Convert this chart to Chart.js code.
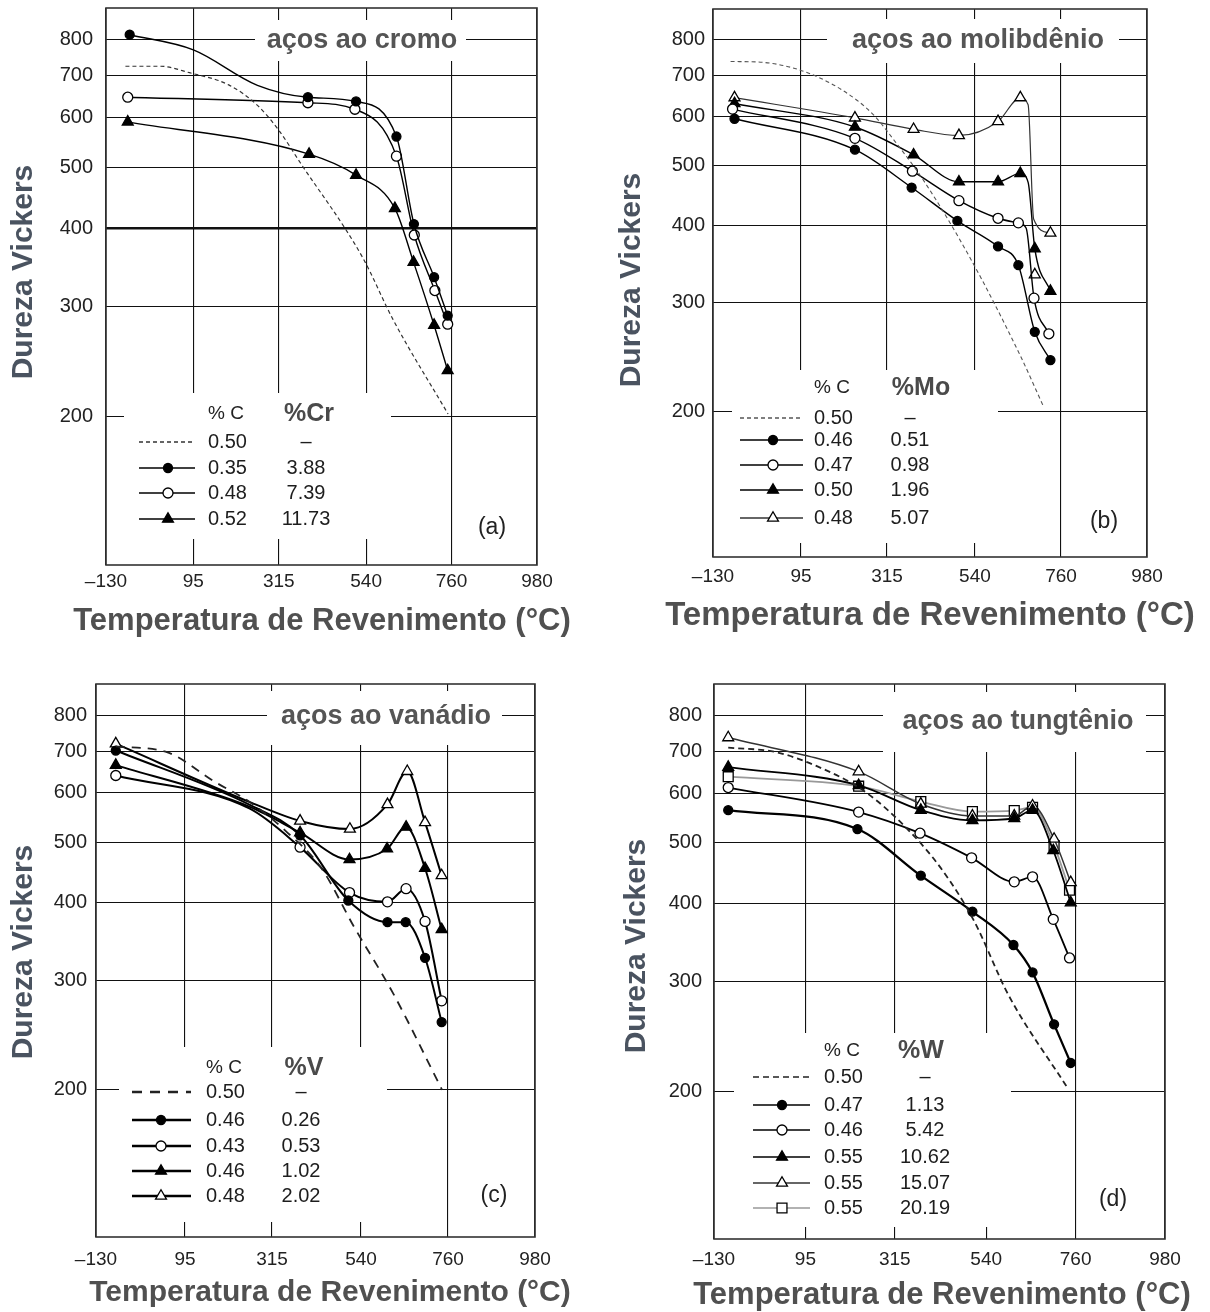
<!DOCTYPE html>
<html>
<head>
<meta charset="utf-8">
<title>Dureza Vickers x Temperatura de Revenimento</title>
<script src="https://cdn.jsdelivr.net/npm/chart.js@4/dist/chart.umd.min.js"></script>
<style>
  html, body { margin: 0; padding: 0; background: #fff; }
  #wrap { position: relative; width: 1210px; height: 1312px; overflow: hidden; }
  #wrap canvas { position: absolute; }
</style>
</head>
<body>
<div id="wrap">
  <canvas id="cA"></canvas>
  <canvas id="cB"></canvas>
  <canvas id="cC"></canvas>
  <canvas id="cD"></canvas>
</div>
<script>
const FONT = "'Liberation Sans', Arial, Helvetica, sans-serif";

// eixos (iguais nos 4 graficos)
const xTicks = [-130, 95, 315, 540, 760, 980];
const yTicks = [200, 300, 400, 500, 600, 700, 800];

// (a) aços ao cromo
const crCarbon = ['0.50', '0.35', '0.48', '0.52'];
const crAlloy = ['–', '3.88', '7.39', '11.73'];
const crTemp0 = [-80, 10, 85, 186, 260, 315, 370, 531, 609, 751];
const crHv0 = [725, 725, 708, 677, 628, 573, 509, 359, 286, 202];
const crTemp1 = [-69, 390, 514, 618, 663, 715, 750];
const crHv1 = [814, 647, 637, 560, 406, 334, 290];
const crCurveT1 = [95, 260];          // trechos da curva sem marcador
const crCurveHv1 = [770, 676];
const crTemp2 = [-74, 390, 511, 618, 664, 717, 750];
const crHv2 = [647, 634, 619, 521, 390, 318, 281];
const crTemp3 = [-74, 393, 514, 614, 662, 715, 750];
const crHv3 = [591, 525, 486, 430, 353, 280, 237];

// (b) aços ao molibdênio
const moCarbon = ['0.50', '0.46', '0.47', '0.50', '0.48'];
const moAlloy = ['–', '0.51', '0.98', '1.96', '5.07'];
const moTemp0 = [-85, -20, 89, 198, 278, 338, 407, 527, 656, 716];
const moHv0 = [738, 737, 716, 665, 607, 545, 475, 355, 246, 203];
const moTemp1 = [-75, 233, 378, 495, 599, 651, 693, 733];
const moHv1 = [596, 531, 461, 407, 370, 345, 269, 242];
const moTemp2 = [-80, 233, 380, 499, 599, 651, 691, 729];
const moHv2 = [618, 554, 490, 439, 411, 404, 305, 267];
const moCurveT2 = [671];
const moCurveHv2 = [396];
const moTemp3 = [-75, 233, 383, 499, 599, 656, 693, 733];
const moHv3 = [631, 578, 521, 471, 471, 486, 367, 313];
const moCurveT3 = [676];
const moCurveHv3 = [470];
const moTemp4 = [-75, 233, 383, 499, 599, 656, 733];
const moHv4 = [645, 598, 573, 560, 590, 645, 389];
const moCurveT4 = [676, 690];
const moCurveHv4 = [628, 410];
// ponto isolado (triangulo aberto fora da curva)
const moTempExtra = [693];
const moHvExtra = [333];

// (c) aços ao vanádio
const vCarbon = ['0.50', '0.46', '0.43', '0.46', '0.48'];
const vAlloy = ['–', '0.26', '0.53', '1.02', '2.02'];
const vTemp0 = [-80, 51, 169, 259, 350, 440, 522, 621, 745];
const vHv0 = [713, 697, 626, 580, 521, 454, 366, 286, 200];
const vTemp1 = [-80, 386, 508, 607, 653, 702, 744];
const vHv1 = [702, 513, 403, 372, 372, 326, 257];
const vCurveT1 = [259];
const vCurveHv1 = [574];
const vTemp2 = [-80, 386, 511, 607, 654, 702, 744];
const vHv2 = [640, 491, 415, 401, 421, 373, 278];
const vCurveT2 = [259];
const vCurveHv2 = [566];
const vTemp3 = [-80, 386, 511, 606, 654, 702, 744];
const vHv3 = [665, 518, 469, 488, 529, 454, 362];
const vCurveT3 = [259];
const vCurveHv3 = [570];
const vTemp4 = [-80, 386, 512, 607, 657, 702, 744];
const vHv4 = [720, 541, 525, 575, 650, 538, 442];
const vCurveT4 = [259];
const vCurveHv4 = [580];

// (d) aços ao tungtênio
const wCarbon = ['0.50', '0.47', '0.46', '0.55', '0.55', '0.55'];
const wAlloy = ['–', '1.13', '5.42', '10.62', '15.07', '20.19'];
const wTemp0 = [-95, 20, 126, 241, 346, 432, 509, 595, 739];
const wHv0 = [710, 699, 662, 604, 526, 452, 376, 285, 203];
const wTemp1 = [-95, 223, 379, 506, 607, 654, 707, 748];
const wHv1 = [564, 526, 443, 388, 343, 310, 256, 222];
const wTemp2 = [-95, 226, 377, 504, 609, 654, 705, 745];
const wHv2 = [613, 560, 518, 473, 433, 441, 377, 327];
const wTemp3 = [-95, 226, 379, 506, 609, 654, 705, 748];
const wHv3 = [661, 618, 564, 543, 547, 564, 486, 401];
const wTemp4 = [-95, 226, 379, 506, 609, 654, 707, 748];
const wHv4 = [737, 650, 577, 552, 552, 573, 507, 432];
const wTemp5 = [-95, 226, 379, 506, 609, 654, 707, 745];
const wHv5 = [638, 616, 582, 561, 563, 570, 495, 420];

// estilos de marcador
const MARK = {
    dot: { pointStyle: 'circle', radius: 4.5, fill: '#000' },
    ring: { pointStyle: 'circle', radius: 5, fill: '#fff' },
    tri: { pointStyle: 'triangle', radius: 6.3, fill: '#000' },
    triOpen: { pointStyle: 'triangle', radius: 6.3, fill: '#fff' },
    sq: { pointStyle: 'rect', radius: 7, fill: '#fff' }
};

// pontos com marcador + pontos (sem marcador), em ordem de x
function toPoints(s) {
    const pts = s.t.map((x, i) => ({ x: x, y: s.hv[i], mark: true }));
    (s.ct || []).forEach((x, i) => pts.push({ x: x, y: s.chv[i], mark: false }));
    return pts.sort((a, b) => a.x - b.x);
}

// configuracao de cada painel (posicoes em pixels do canvas)
const panels = [
    {
        id: 'cA', left: 0, top: 0, w: 605, h: 655,
        frame: { l: 106, t: 8, r: 537, b: 565 },
        yPad: 13, xPad: 5,
        xTitleXY: [322, 621], xTitleSize: 31,
        title: 'aços ao cromo', titleBox: [255, 20, 211, 41], titleXY: [362, 41],
        yTitleXY: [24, 272], label: '(a)', labelXY: [492, 528],
        thick400: true,
        dash: [4, 3], dashW: 1.2, dashColor: '#333', lineW: 1.4,
        alloyHead: '%Cr', carbon: crCarbon, alloy: crAlloy,
        legend: { box: [124, 393, 267, 146], headY: 414, cx: 208, ax: 306, axHead: 309,
                  rows: [442, 468, 493, 519], x0: 139, x1: 195, mx: 168, lw: 1.3 },
        series: [
            { t: crTemp0, hv: crHv0, kind: 'dash' },
            { t: crTemp1, hv: crHv1, ct: crCurveT1, chv: crCurveHv1, kind: 'dot' },
            { t: crTemp2, hv: crHv2, kind: 'ring' },
            { t: crTemp3, hv: crHv3, kind: 'tri' }
        ]
    },
    {
        id: 'cB', left: 605, top: 0, w: 605, h: 655,
        frame: { l: 108, t: 9, r: 542, b: 557 },
        yPad: 8, xPad: 8,
        xTitleXY: [325, 616], xTitleSize: 33,
        title: 'aços ao molibdênio', titleBox: [222, 19, 292, 44], titleXY: [373, 41],
        yTitleXY: [27, 280], label: '(b)', labelXY: [499, 522],
        dash: [4, 3], dashW: 1.1, dashColor: '#555', lineW: 1.4,
        alloyHead: '%Mo', carbon: moCarbon, alloy: moAlloy,
        legend: { box: [127, 370, 266, 173], headY: 388, cx: 209, ax: 305, axHead: 316,
                  rows: [418, 440, 465, 490, 518], x0: 135, x1: 198, mx: 168, lw: 1.3 },
        series: [
            { t: moTemp0, hv: moHv0, kind: 'dash' },
            { t: moTemp1, hv: moHv1, kind: 'dot' },
            { t: moTemp2, hv: moHv2, ct: moCurveT2, chv: moCurveHv2, kind: 'ring' },
            { t: moTemp3, hv: moHv3, ct: moCurveT3, chv: moCurveHv3, kind: 'tri' },
            { t: moTemp4, hv: moHv4, ct: moCurveT4, chv: moCurveHv4, kind: 'triOpen', color: '#333', width: 1.2 }
        ],
        extra: [{ t: moTempExtra, hv: moHvExtra, kind: 'triOpen' }]
    },
    {
        id: 'cC', left: 0, top: 655, w: 605, h: 657,
        frame: { l: 96, t: 29, r: 535, b: 582 },
        yPad: 9, xPad: 11,
        xTitleXY: [330, 638], xTitleSize: 30,
        title: 'aços ao vanádio', titleBox: [267, 36, 235, 54], titleXY: [386, 62],
        yTitleXY: [24, 297], label: '(c)', labelXY: [494, 541],
        dash: [9, 7], dashW: 1.8, dashColor: '#222', lineW: 2,
        alloyHead: '%V', carbon: vCarbon, alloy: vAlloy,
        legend: { box: [119, 392, 268, 175], headY: 413, cx: 206, ax: 301, axHead: 304,
                  rows: [437, 465, 491, 516, 541], x0: 132, x1: 191, mx: 161, lw: 2.4, legDash: [10, 8] },
        series: [
            { t: vTemp0, hv: vHv0, kind: 'dash' },
            { t: vTemp1, hv: vHv1, ct: vCurveT1, chv: vCurveHv1, kind: 'dot' },
            { t: vTemp2, hv: vHv2, ct: vCurveT2, chv: vCurveHv2, kind: 'ring' },
            { t: vTemp3, hv: vHv3, ct: vCurveT3, chv: vCurveHv3, kind: 'tri' },
            { t: vTemp4, hv: vHv4, ct: vCurveT4, chv: vCurveHv4, kind: 'triOpen' }
        ]
    },
    {
        id: 'cD', left: 605, top: 655, w: 605, h: 657,
        frame: { l: 109, t: 29, r: 560, b: 584 },
        yPad: 12, xPad: 9,
        xTitleXY: [337, 640], xTitleSize: 31,
        title: 'aços ao tungtênio', titleBox: [278, 37, 263, 60], titleXY: [413, 67],
        yTitleXY: [32, 291], label: '(d)', labelXY: [508, 545],
        dash: [6, 4], dashW: 1.8, dashColor: '#222', lineW: 1.8,
        alloyHead: '%W', carbon: wCarbon, alloy: wAlloy,
        legend: { box: [129, 378, 277, 194], headY: 396, cx: 219, ax: 320, axHead: 316,
                  rows: [422, 450, 475, 502, 528, 553], x0: 148, x1: 205, mx: 177, lw: 1.5 },
        series: [
            { t: wTemp0, hv: wHv0, kind: 'dash' },
            { t: wTemp1, hv: wHv1, kind: 'dot', width: 2.3 },
            { t: wTemp2, hv: wHv2, kind: 'ring' },
            { t: wTemp3, hv: wHv3, kind: 'tri' },
            { t: wTemp4, hv: wHv4, kind: 'triOpen', color: '#333', width: 1.5 },
            { t: wTemp5, hv: wHv5, kind: 'sq', color: '#999', width: 1.8 }
        ]
    }
];

// marcador da legenda (mesma geometria do Chart.js)
function drawMarker(ctx, kind, x, y) {
    const m = MARK[kind];
    const r = m.radius;
    ctx.save();
    ctx.fillStyle = m.fill;
    ctx.strokeStyle = '#000';
    ctx.lineWidth = 1.3;
    ctx.setLineDash([]);
    ctx.beginPath();
    if (m.pointStyle === 'circle') {
        ctx.arc(x, y, r, 0, Math.PI * 2);
    } else if (m.pointStyle === 'triangle') {
        ctx.moveTo(x, y - r);
        ctx.lineTo(x + r * Math.cos(Math.PI / 6), y + r * 0.5);
        ctx.lineTo(x - r * Math.cos(Math.PI / 6), y + r * 0.5);
    } else {
        const s = r * Math.SQRT1_2;
        ctx.rect(x - s, y - s, 2 * s, 2 * s);
    }
    ctx.closePath();
    ctx.fill();
    ctx.stroke();
    ctx.restore();
}

function makeDataset(p, s, markersOnly) {
    const isDash = s.kind === 'dash';
    const m = MARK[s.kind] || {};
    return {
        data: toPoints(s),
        showLine: !markersOnly,
        borderColor: isDash ? p.dashColor : (s.color || '#000'),
        borderWidth: isDash ? p.dashW : (s.width || p.lineW),
        borderDash: isDash ? p.dash : [],
        cubicInterpolationMode: 'monotone',
        fill: false,
        pointStyle: m.pointStyle || 'circle',
        pointRadius: c => (isDash || !(c.raw && c.raw.mark) ? 0 : m.radius),
        pointBackgroundColor: m.fill,
        pointBorderColor: '#000',
        pointBorderWidth: 1.3
    };
}

function makePanel(p) {
    const canvas = document.getElementById(p.id);
    canvas.width = p.w;
    canvas.height = p.h;
    canvas.style.left = p.left + 'px';
    canvas.style.top = p.top + 'px';

    const datasets = p.series.map(s => makeDataset(p, s, false));
    (p.extra || []).forEach(s => datasets.push(makeDataset(p, s, true)));

    // caixas brancas, moldura, titulos, legenda e rotulo do painel
    const decor = {
        id: 'decor' + p.id,
        beforeDatasetsDraw(chart) {
            const ctx = chart.ctx;
            ctx.save();
            ctx.fillStyle = '#fff';
            ctx.fillRect(...p.titleBox);
            ctx.fillRect(...p.legend.box);
            ctx.restore();
        },
        afterDraw(chart) {
            const ctx = chart.ctx;
            const a = chart.chartArea;
            ctx.save();
            ctx.strokeStyle = '#333';
            ctx.lineWidth = 1.6;
            ctx.strokeRect(a.left, a.top, a.width, a.height);

            ctx.textBaseline = 'middle';
            ctx.textAlign = 'center';
            ctx.fillStyle = '#555';
            ctx.font = 'bold 27px ' + FONT;
            ctx.fillText(p.title, p.titleXY[0], p.titleXY[1]);

            ctx.fillStyle = '#222';
            ctx.font = '23px ' + FONT;
            ctx.fillText(p.label, p.labelXY[0], p.labelXY[1]);

            // titulo do eixo x (mais largo que a area do grafico)
            ctx.fillStyle = '#505050';
            ctx.font = 'bold ' + p.xTitleSize + 'px ' + FONT;
            ctx.fillText('Temperatura de Revenimento (°C)', p.xTitleXY[0], p.xTitleXY[1]);

            // titulo do eixo y
            ctx.save();
            ctx.translate(p.yTitleXY[0], p.yTitleXY[1]);
            ctx.rotate(-Math.PI / 2);
            ctx.fillStyle = '#4a5360';
            ctx.font = 'bold 30px ' + FONT;
            ctx.fillText('Dureza Vickers', 0, 0);
            ctx.restore();

            // legenda em duas colunas
            const L = p.legend;
            ctx.fillStyle = '#222';
            ctx.font = '19px ' + FONT;
            ctx.textAlign = 'left';
            ctx.fillText('% C', L.cx, L.headY);
            ctx.fillStyle = '#4a4a4a';
            ctx.font = 'bold 25px ' + FONT;
            ctx.textAlign = 'center';
            ctx.fillText(p.alloyHead, L.axHead, L.headY);

            p.series.forEach((s, i) => {
                const y = L.rows[i];
                const isDash = s.kind === 'dash';
                ctx.save();
                ctx.strokeStyle = isDash ? p.dashColor : (s.color || '#000');
                ctx.lineWidth = L.lw;
                ctx.setLineDash(isDash ? (L.legDash || p.dash) : []);
                ctx.beginPath();
                ctx.moveTo(L.x0, y);
                ctx.lineTo(L.x1, y);
                ctx.stroke();
                ctx.restore();
                if (!isDash) drawMarker(ctx, s.kind, L.mx, y);

                ctx.fillStyle = '#1d1d1d';
                ctx.font = '20px ' + FONT;
                ctx.textAlign = 'left';
                ctx.fillText(p.carbon[i], L.cx, y);
                ctx.textAlign = 'center';
                ctx.fillText(p.alloy[i], L.ax, y);
            });
            ctx.restore();
        }
    };

    return new Chart(canvas, {
        type: 'line',
        data: { datasets: datasets },
        options: {
            responsive: false,
            animation: false,
            events: [],
            layout: {
                padding: { left: 0, top: p.frame.t, right: p.w - p.frame.r, bottom: 0 }
            },
            plugins: {
                legend: { display: false },
                tooltip: { enabled: false }
            },
            scales: {
                x: {
                    type: 'linear',
                    min: -130,
                    max: 980,
                    afterBuildTicks: axis => { axis.ticks = xTicks.map(v => ({ value: v })); },
                    afterFit: axis => {
                        axis.height = p.h - p.frame.b;
                        axis.paddingLeft = 0;
                        axis.paddingRight = 0;
                    },
                    grid: { color: '#111', lineWidth: 1.1, drawTicks: false },
                    border: { display: false },
                    ticks: {
                        autoSkip: false,
                        maxRotation: 0,
                        padding: p.xPad,
                        color: '#222',
                        font: { family: FONT, size: 19 },
                        callback: v => (v < 0 ? '–' + Math.abs(v) : String(v))
                    }
                },
                y: {
                    type: 'logarithmic',
                    min: 116,
                    max: 898,
                    afterBuildTicks: axis => { axis.ticks = yTicks.map(v => ({ value: v })); },
                    afterFit: axis => {
                        axis.width = p.frame.l;
                        axis.paddingTop = 0;
                        axis.paddingBottom = 0;
                    },
                    grid: {
                        color: '#111',
                        drawTicks: false,
                        lineWidth: c => (p.thick400 && c.tick && c.tick.value === 400 ? 2.6 : 1.1)
                    },
                    border: { display: false },
                    ticks: {
                        autoSkip: false,
                        padding: p.yPad,
                        color: '#222',
                        font: { family: FONT, size: 20 },
                        callback: v => String(v)
                    }
                }
            }
        },
        plugins: [decor]
    });
}

panels.forEach(makePanel);
</script>
</body>
</html>
